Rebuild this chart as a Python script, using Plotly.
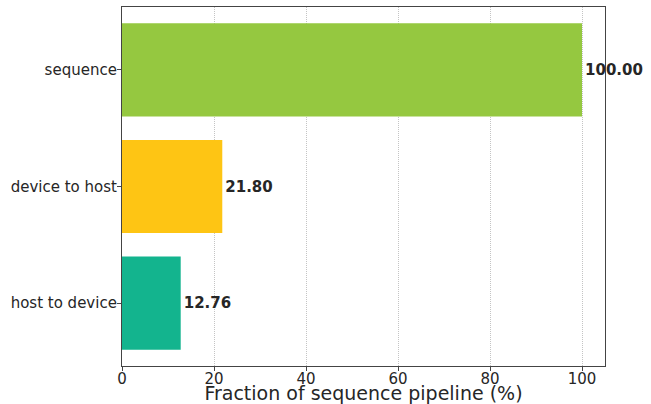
import plotly.graph_objects as go

categories = ["host to device", "device to host", "sequence"]
values = [12.76, 21.80, 100.00]
colors = ["#13b48e", "#fec514", "#95c840"]
labels = ["12.76", "21.80", "100.00"]

fig = go.Figure(go.Bar(
    x=values, y=categories, orientation="h",
    marker=dict(color=colors, line=dict(width=0)),
    width=0.8,
    text=labels, textposition="outside", cliponaxis=False,
    textfont=dict(family="DejaVu Sans", size=15, color="#262626", weight="bold"),
))

fig.update_layout(
    width=651, height=404,
    margin=dict(l=122, r=46, t=7, b=38, autoexpand=False),
    plot_bgcolor="white", paper_bgcolor="white",
    showlegend=False,
    font=dict(family="DejaVu Sans", color="#262626", size=15),
)
fig.update_xaxes(
    range=[0, 105], tickvals=[0, 20, 40, 60, 80, 100],
    showgrid=True, gridcolor="#c4c4c4", griddash="1px,1px", gridwidth=1,
    showline=True, linecolor="#444444", linewidth=1.2, mirror=True,
    ticks="outside", ticklen=4, tickcolor="#444444",
    tickfont=dict(size=15), ticklabelstandoff=-5,
    title=dict(text="Fraction of sequence pipeline (%)", font=dict(size=19), standoff=2),
    zeroline=False, automargin=False,
)
fig.update_yaxes(
    range=[-0.54, 2.54], categoryorder="array", categoryarray=categories,
    showgrid=False,
    showline=True, linecolor="#444444", linewidth=1.2, mirror=True,
    ticks="outside", ticklen=4, tickcolor="#444444",
    tickfont=dict(size=15), ticklabelstandoff=-3, automargin=False,
)

fig.write_html("out.html", config={"displayModeBar": False},
               post_script="document.body.style.margin='0px';")
